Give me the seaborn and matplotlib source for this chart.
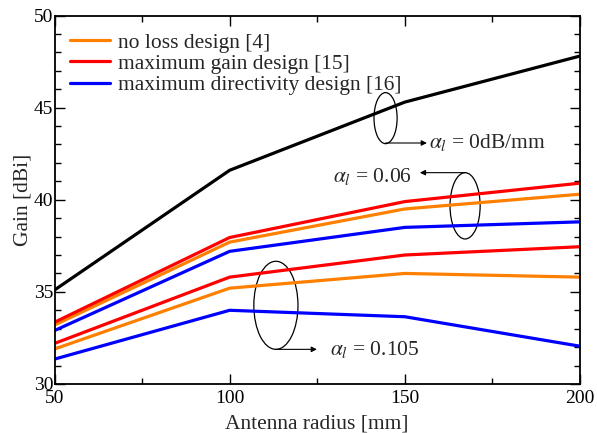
import matplotlib
matplotlib.use("Agg")
import matplotlib.pyplot as plt
from matplotlib.patches import Ellipse
from matplotlib.ticker import MultipleLocator
import numpy as np
import pandas as pd
import seaborn as sns

# Antenna radius [mm]
radius = [50, 100, 150, 200]

# Gain [dBi] for lossless reflector (all designs coincide)
gain_lossless = [35.1, 41.6, 45.3, 47.8]

# alpha_l = 0.06 dB/mm
gain_006_noloss = [33.2, 37.7, 39.5, 40.3]
gain_006_maxgain = [33.35, 37.95, 39.9, 40.9]
gain_006_maxdir = [32.9, 37.2, 38.5, 38.8]

# alpha_l = 0.105 dB/mm
gain_0105_noloss = [31.9, 35.2, 36.0, 35.8]
gain_0105_maxgain = [32.2, 35.8, 37.0, 37.45]
gain_0105_maxdir = [31.35, 34.0, 33.65, 32.05]

designs = ["no loss design [4]", "maximum gain design [15]",
           "maximum directivity design [16]"]
colors = ["#ff8000", "#ff0000", "#0000ff"]

rows = []
for loss, series in [(0.06, [gain_006_noloss, gain_006_maxgain, gain_006_maxdir]),
                     (0.105, [gain_0105_noloss, gain_0105_maxgain, gain_0105_maxdir])]:
    for name, vals in zip(designs, series):
        for r, g in zip(radius, vals):
            rows.append({"radius": r, "gain": g, "design": name, "loss": loss})
df = pd.DataFrame(rows)
df0 = pd.DataFrame({"radius": radius, "gain": gain_lossless})

sns.set_theme(style="ticks")
plt.rcParams["font.family"] = ["Liberation Serif", "DejaVu Serif"]
plt.rcParams["mathtext.fontset"] = "stix"

fig = plt.figure(figsize=(5.97, 4.33), dpi=100)
ax = fig.add_axes([0.0913, 0.1132, 0.8802, 0.851])

sns.lineplot(data=df0, x="radius", y="gain", color="black", lw=2.3, ax=ax,
             legend=False)
sns.lineplot(data=df, x="radius", y="gain", hue="design", units="loss",
             estimator=None, hue_order=designs, palette=colors, lw=2.3, ax=ax)

ax.set_xlim(50, 200)
ax.set_ylim(30, 50)
ax.xaxis.set_major_locator(MultipleLocator(50))
ax.xaxis.set_minor_locator(MultipleLocator(25))
ax.yaxis.set_major_locator(MultipleLocator(5))
ax.yaxis.set_minor_locator(MultipleLocator(1))
ax.tick_params(which="both", direction="in", top=True, right=True,
               labelsize=14, colors="black", width=1.0)
ax.tick_params(axis="y", pad=1)
ax.tick_params(axis="x", pad=4)
ax.tick_params(which="major", length=7)
ax.tick_params(which="minor", length=4)
for s in ax.spines.values():
    s.set_linewidth(1.3)
    s.set_color("black")

ax.set_xlabel("Antenna radius [mm]", fontsize=15.5, labelpad=6)
ax.set_ylabel("Gain [dBi]", fontsize=15.5, labelpad=1)

leg = ax.legend(loc="upper left", frameon=False, fontsize=15.5,
                handlelength=1.85, handletextpad=0.37, labelspacing=0.06,
                borderpad=0.0, borderaxespad=0.0,
                bbox_to_anchor=(0.0295, 0.954))
for h in leg.get_lines():
    h.set_linewidth(2.3)

# group markers
ax.add_patch(Ellipse((144.5, 44.43), 6.6, 2.77, fill=False, lw=0.9, color="black"))
ax.annotate("", xy=(156.3, 43.08), xytext=(144.5, 43.08),
            arrowprops=dict(arrowstyle="-|>", lw=0.8, color="black",
                            mutation_scale=8, shrinkA=0, shrinkB=0))
ax.text(157.0, 43.1, r"$\alpha_l$ = 0dB/mm", fontsize=15.5, va="center", ha="left")

ax.add_patch(Ellipse((167.2, 39.67), 8.6, 3.6, fill=False, lw=0.9, color="black"))
ax.annotate("", xy=(154.3, 41.47), xytext=(167.2, 41.47),
            arrowprops=dict(arrowstyle="-|>", lw=0.8, color="black",
                            mutation_scale=8, shrinkA=0, shrinkB=0))
ax.text(152.0, 41.25, r"$\alpha_l$ = 0.06", fontsize=15.5, va="center", ha="right")

ax.add_patch(Ellipse((113.2, 34.27), 12.6, 4.78, fill=False, lw=0.9, color="black"))
ax.annotate("", xy=(124.9, 31.88), xytext=(113.2, 31.88),
            arrowprops=dict(arrowstyle="-|>", lw=0.8, color="black",
                            mutation_scale=8, shrinkA=0, shrinkB=0))
ax.text(128.6, 31.88, r"$\alpha_l$ = 0.105", fontsize=15.5, va="center", ha="left")

fig.savefig("out.png", dpi=100)
